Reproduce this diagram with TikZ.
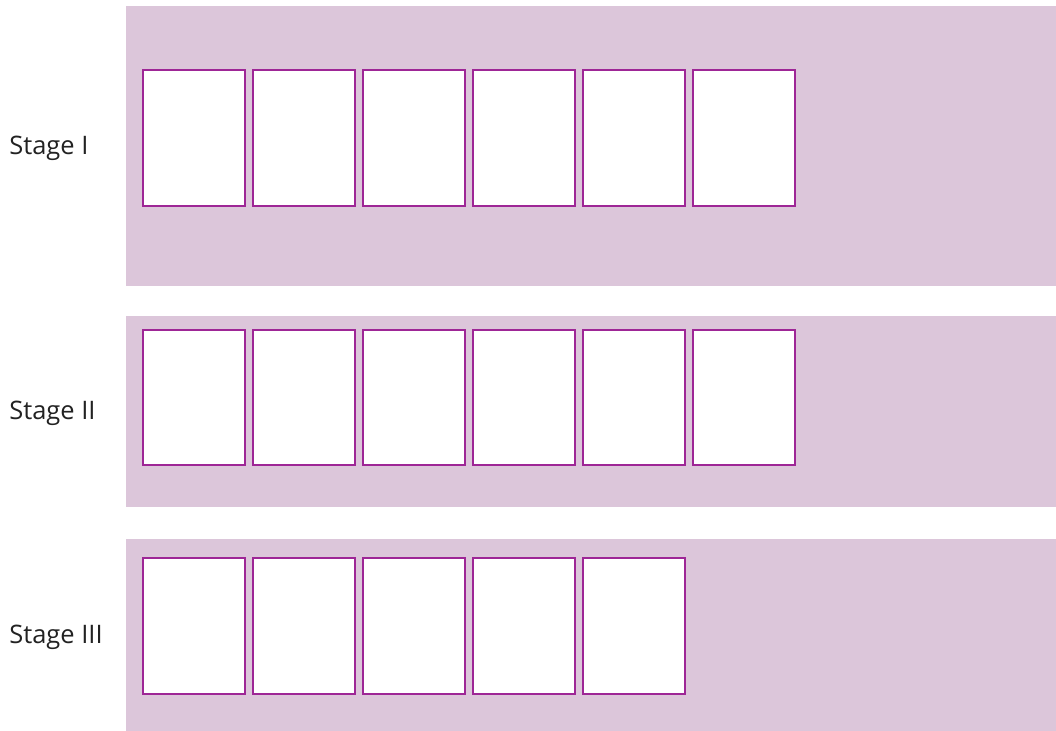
\documentclass[tikz,border=0pt]{standalone}
\usepackage{fontspec}
\setmainfont{Open Sans}
\usepackage{tikz}
\definecolor{band-pink}{RGB}{220,198,218}
\definecolor{frame-purple}{RGB}{158,38,150}
\definecolor{label-gray}{RGB}{34,34,34}

\begin{document}
\begin{tikzpicture}
[
  x=0.02cm, y=-0.02cm,
  band/.style={fill=band-pink, draw=none},
  box/.style={draw=frame-purple, fill=white, line width=0.6pt},
  stagelabel/.style={anchor=west, inner sep=0pt, text=label-gray, font=\fontsize{14.5}{17}\selectfont},
]
\useasboundingbox (0,0) rectangle (1056,731);
% bands
\fill[band] (126,6) rectangle (1056,286);
\fill[band] (126,316) rectangle (1056,507);
\fill[band] (126,539) rectangle (1056,731);
% cards
\foreach \i in {0,...,5}
    \draw[box] (143+110*\i,70) rectangle (245+110*\i,206);
\foreach \i in {0,...,5}
    \draw[box] (143+110*\i,330) rectangle (245+110*\i,465);
\foreach \i in {0,...,4}
    \draw[box] (143+110*\i,558) rectangle (245+110*\i,694);
% labels
\node[stagelabel] (stageone) at (9,148) {Stage I};
\node[stagelabel] (stagetwo) at (9,413) {Stage II};
\node[stagelabel] (stagethree) at (9,637) {Stage III};
\end{tikzpicture}
\end{document}
